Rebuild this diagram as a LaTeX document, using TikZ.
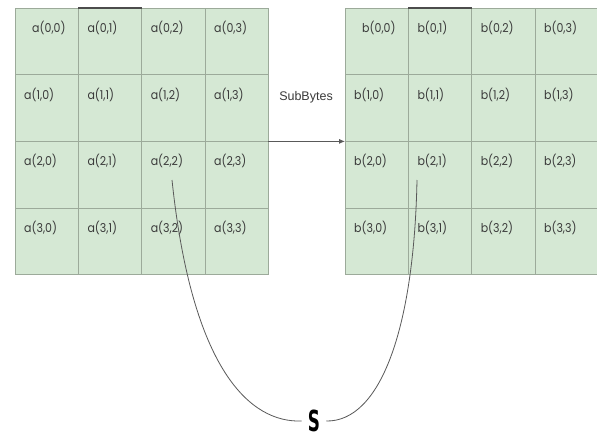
\documentclass[tikz,border=0pt]{standalone}
\usepackage{fontspec}
\usetikzlibrary{arrows.meta}
\setmainfont{Liberation Sans}
\newfontfamily\cellfont{Poppins}
\newfontfamily\sfont{Liberation Sans}
\newfontfamily\heavyfont{DejaVu Sans}
\newcommand\ctxt[1]{\scalebox{0.9}[1]{#1}}
\definecolor{cellfill}{HTML}{D5E8D4}
\definecolor{cellline}{HTML}{9CAA9A}
\definecolor{txt}{HTML}{3A3A3A}
\tikzset{
  cell/.style={draw=cellline, fill=cellfill, line width=0.8pt, minimum width=63.3pt, minimum height=66.7pt, anchor=north west, inner sep=0pt, outer sep=0pt},
  celltext/.style={anchor=west, font=\cellfont\fontsize{12.2}{13}\selectfont, text=txt, inner sep=0pt},
  topedge/.style={draw=black!70, line width=1.3pt},
  conn/.style={draw=black!65, line width=0.8pt},
}
\begin{document}
\begin{tikzpicture}[x=1pt,y=-1pt]
\useasboundingbox (0,0) rectangle (597,439);
\fill[white] (0,0) rectangle (597,439);
% left grid
\foreach \r in {0,1,2,3}{
  \foreach \c in {0,1,2,3}{
    \pgfmathsetmacro{\xs}{ifthenelse(\r==0 && \c==0, 17, 9)}
    \node[cell, label={[celltext, xshift=\xs pt, yshift=-20pt]north west:\ctxt{a(\r,\c)}}] (a\r\c) at (15+63.3*\c, 8+66.7*\r) {};
  }
}
% right grid
\foreach \r in {0,1,2,3}{
  \foreach \c in {0,1,2,3}{
    \pgfmathsetmacro{\xs}{ifthenelse(\r==0 && \c==0, 17, 9)}
    \node[cell, label={[celltext, xshift=\xs pt, yshift=-20pt]north west:\ctxt{b(\r,\c)}}] (b\r\c) at (345+63.3*\c, 8+66.7*\r) {};
  }
}
\draw[topedge] (a01.north west) -- (a01.north east);
\draw[topedge] (b01.north west) -- (b01.north east);
% arrow
\draw[conn, -{Latex[length=6pt,width=5pt]}] (a13.south east) -- (b10.south west);
\node[font=\sfont\fontsize{12.5}{14}\selectfont, text=txt] (lbl) at (306,97) {SubBytes};
% S
\node[font=\heavyfont\bfseries\fontsize{29}{30}\selectfont, inner sep=0pt] (S) at (314,421) {\scalebox{0.58}[1]{S}};
\coordinate (pa) at (172,180);
\coordinate (pb) at (417,180);
\draw[conn] (pa) .. controls (192,370) and (250,423) .. ([xshift=-6pt]S.west);
\draw[conn] ([xshift=6pt]S.east) .. controls (380,422) and (414,330) .. (pb);
\end{tikzpicture}
\end{document}
